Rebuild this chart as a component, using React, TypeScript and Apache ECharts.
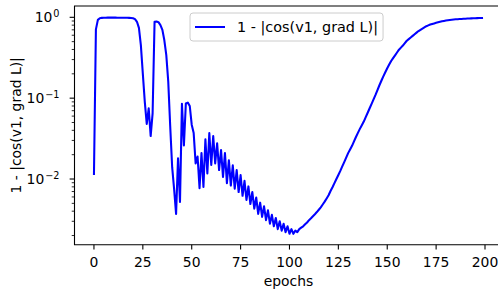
import React, { useEffect, useRef } from 'react';
import * as echarts from 'echarts';

// 1 - |cos(v1, grad L)| per epoch (epochs 0..199)
const values: number[] = [
  0.0112, 0.71, 0.93, 0.975, 0.985, 0.988, 0.989, 0.99, 0.99, 0.99,
  0.99, 0.99, 0.989, 0.989, 0.988, 0.988, 0.987, 0.986, 0.985, 0.982,
  0.975, 0.95, 0.88, 0.74, 0.45, 0.2, 0.09, 0.048, 0.075, 0.034,
  0.065, 0.88, 0.885, 0.87, 0.8, 0.7, 0.52, 0.34, 0.16, 0.045,
  0.014, 0.0075, 0.0037, 0.018, 0.0052, 0.085, 0.026, 0.086, 0.088, 0.08,
  0.047, 0.037, 0.0156, 0.019, 0.0077, 0.021, 0.008, 0.031, 0.0117, 0.037,
  0.0149, 0.034, 0.0156, 0.0276, 0.0129, 0.0228, 0.0106, 0.021, 0.0089, 0.0171,
  0.0083, 0.0148, 0.0076, 0.0129, 0.0069, 0.0112, 0.0062, 0.0095, 0.0055, 0.0081,
  0.0049, 0.0069, 0.0043, 0.0059, 0.0037, 0.0051, 0.0034, 0.0046, 0.0031, 0.0041,
  0.0028, 0.0036, 0.0026, 0.0033, 0.0024, 0.003, 0.0023, 0.0028, 0.0022, 0.0026,
  0.0021, 0.0024, 0.0021, 0.0023, 0.0022, 0.0024, 0.0025, 0.0026, 0.00275, 0.0029,
  0.0031, 0.00327, 0.00347, 0.00367, 0.0039, 0.00417, 0.00447, 0.00484, 0.00525, 0.00575,
  0.0063, 0.0071, 0.0079, 0.0089, 0.01, 0.0112, 0.0126, 0.0143, 0.0162, 0.0184,
  0.0209, 0.0232, 0.0257, 0.0292, 0.0331, 0.0372, 0.0417, 0.0462, 0.0513, 0.0582,
  0.066, 0.075, 0.0851, 0.0966, 0.1096, 0.126, 0.1445, 0.164, 0.186, 0.209,
  0.234, 0.26, 0.288, 0.313, 0.339, 0.367, 0.398, 0.422, 0.447, 0.479,
  0.513, 0.537, 0.562, 0.589, 0.617, 0.646, 0.676, 0.7, 0.724, 0.75,
  0.776, 0.794, 0.813, 0.828, 0.841, 0.855, 0.867, 0.879, 0.891, 0.902,
  0.912, 0.92, 0.927, 0.933, 0.94, 0.944, 0.948, 0.953, 0.955, 0.959,
  0.962, 0.966, 0.968, 0.97, 0.973, 0.975, 0.977, 0.979, 0.98, 0.982,
];
const epochs: number[] = values.map((_, i) => i);

const xTicks = [0, 25, 50, 75, 100, 125, 150, 175, 200];
const yMajorTicks = [0.01, 0.1, 1];
const yMinorTicks = [
  0.002, 0.003, 0.004, 0.005, 0.006, 0.007, 0.008, 0.009,
  0.02, 0.03, 0.04, 0.05, 0.06, 0.07, 0.08, 0.09,
  0.2, 0.3, 0.4, 0.5, 0.6, 0.7, 0.8, 0.9,
];

const X_MIN = -9.95;
const X_MAX = 208.95;
const Y_MIN = 0.00154;
const Y_MAX = 1.38;

const FONT = 'DejaVu Sans';
const FS = 13.9;

export default function App() {
  const ref = useRef<HTMLDivElement>(null);
  useEffect(() => {
    if (!ref.current) return;
    const chart = echarts.init(ref.current, null, { renderer: 'svg' });
    chart.setOption({
      animation: false,
      backgroundColor: '#ffffff',
      textStyle: { fontFamily: FONT },
      grid: {
        left: 74.5,
        top: 6,
        width: 428,
        height: 238.7,
        show: true,
        borderColor: '#000000',
        borderWidth: 1.1,
        containLabel: false,
        outerBoundsMode: 'none',
      },
      legend: {
        left: 190,
        top: 13,
        orient: 'horizontal',
        icon: 'rect',
        itemWidth: 30,
        itemHeight: 2,
        padding: [6, 5, 6, 5],
        borderColor: '#cccccc',
        borderWidth: 1,
        borderRadius: 3,
        backgroundColor: 'rgba(255,255,255,0.8)',
        textStyle: { fontFamily: FONT, fontSize: 14.4, color: '#000', lineHeight: 16, padding: [0, 0, 0, 7] },
        data: ['1 - |cos(v1, grad L)|'],
      },
      xAxis: {
        type: 'value',
        min: X_MIN,
        max: X_MAX,
        minInterval: 25,
        maxInterval: 25,
        splitLine: { show: false },
        axisLine: { show: false },
        axisTick: { show: false },
        axisLabel: {
          customValues: xTicks,
          fontFamily: FONT,
          fontSize: FS,
          color: '#000',
          margin: 10,
          showMinLabel: true,
          showMaxLabel: true,
          formatter: (v: number) => (xTicks.some((t) => Math.abs(t - v) < 1e-6) ? String(Math.round(v)) : ''),
        },
        name: 'epochs',
        nameLocation: 'middle',
        nameGap: 29,
        nameMoveOverlap: false,
        nameTextStyle: { fontFamily: FONT, fontSize: FS, color: '#000' },
      },
      yAxis: {
        type: 'log',
        logBase: 10,
        min: Y_MIN,
        max: Y_MAX,
        splitLine: { show: false },
        axisLine: { show: false },
        axisTick: { show: false },
        axisLabel: {
          fontFamily: FONT,
          fontSize: FS,
          color: '#000',
          margin: 15,
          formatter: (v: number) => {
            const l = Math.log10(v);
            const e = Math.round(l);
            if (Math.abs(l - e) > 1e-6) return '';
            const s = e < 0 ? '\u2212' + -e : String(e);
            return '10{sup|' + s + '}';
          },
          rich: {
            sup: { fontFamily: FONT, fontSize: 9.7, color: '#000', padding: [0, 0, 7, 1] },
          },
        },
        name: '1 - |cos(v1, grad L)|',
        nameLocation: 'middle',
        nameGap: 52,
        nameRotate: 90,
        nameMoveOverlap: false,
        nameTextStyle: { fontFamily: FONT, fontSize: FS, color: '#000' },
      },
      series: [
        {
          name: '1 - |cos(v1, grad L)|',
          type: 'line',
          data: epochs.map((e, i) => [e, values[i]]),
          showSymbol: false,
          symbol: 'none',
          clip: true,
          lineStyle: { color: '#0000ff', width: 2.08, join: 'round' },
          itemStyle: { color: '#0000ff' },
        },
      ],
    });

    const g: any[] = [];
    for (const t of xTicks) {
      const p = chart.convertToPixel({ gridIndex: 0 }, [t, Y_MIN]) as number[];
      g.push({
        type: 'line',
        z: 100,
        shape: { x1: p[0], y1: p[1], x2: p[0], y2: p[1] + 4.86 },
        style: { stroke: '#000', lineWidth: 1.1 },
      });
    }
    for (const t of yMajorTicks) {
      const p = chart.convertToPixel({ gridIndex: 0 }, [X_MIN, t]) as number[];
      g.push({
        type: 'line',
        z: 100,
        shape: { x1: p[0] - 4.86, y1: p[1], x2: p[0], y2: p[1] },
        style: { stroke: '#000', lineWidth: 1.1 },
      });
    }
    for (const t of yMinorTicks) {
      if (t < Y_MIN || t > Y_MAX) continue;
      const p = chart.convertToPixel({ gridIndex: 0 }, [X_MIN, t]) as number[];
      g.push({
        type: 'line',
        z: 100,
        shape: { x1: p[0] - 2.78, y1: p[1], x2: p[0], y2: p[1] },
        style: { stroke: '#000', lineWidth: 0.83 },
      });
    }
    chart.setOption({ graphic: g });

    return () => chart.dispose();
  }, []);
  return (
    <div
      ref={ref}
      style={{ position: 'fixed', left: 0, top: 0, width: 498, height: 293, background: '#fff' }}
    />
  );
}
